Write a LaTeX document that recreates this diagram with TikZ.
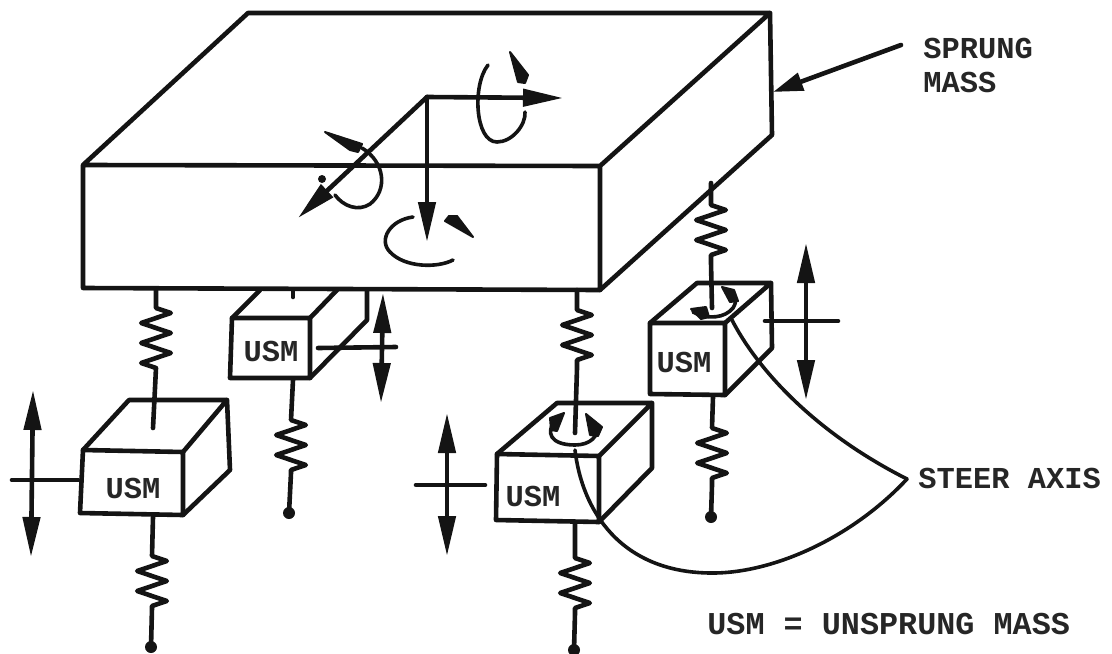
\documentclass[tikz,border=0pt]{standalone}
\usepackage{fontspec}
\setmainfont{Liberation Mono}
\usetikzlibrary{arrows.meta,decorations.pathmorphing}
\tikzset{
  x=0.5pt,y=-0.5pt,
  edge/.style={line width=2.3pt,line join=round,line cap=round,black!92},
  thin edge/.style={line width=1.8pt,line cap=round,black!92},
  tip/.style={edge,-{Triangle[length=20pt,width=8.5pt]}},
  two tip/.style={edge,{Triangle[length=20pt,width=8.5pt]}-{Triangle[length=20pt,width=8.5pt]}},
  zz/.style={decoration={zigzag,segment length=10pt,amplitude=7.4pt}},
  label/.style={font=\fontsize{15.2}{17}\selectfont\bfseries,inner sep=0pt,text=black!85},
  blob/.style={fill=black!92,draw=black!92,line width=1pt,line join=round},
}
\begin{document}
\begin{tikzpicture}
\useasboundingbox (0,0) rectangle (1112,653);

% sprung mass
\coordinate (fl) at (83,165); \coordinate (fr) at (600,166);
\coordinate (bl) at (248,13); \coordinate (br) at (770,13);
\coordinate (flb) at (83,288); \coordinate (frb) at (600,290);
\coordinate (brb) at (772,135);
\draw[edge] (fl) -- (bl) -- (br) -- (fr) -- (fl) -- (flb) -- (frb) -- (fr);
\draw[edge] (br) -- (brb) -- (frb);

% axes and rotations
\coordinate (org) at (427,97);
\coordinate (ax) at (563,98); \coordinate (ay) at (427,242); \coordinate (az) at (298,218);
\draw[tip] (org) -- (ax);
\draw[tip] (org) -- (ay);
\draw[tip] (org) -- (az);
\draw[thin edge] (488,65) .. controls (472,85) and (475,142) .. (497,142) .. controls (512,142) and (526,125) .. (525,112);
\fill[blob] (510,52) -- (528,75) -- (525,83) -- (518,82) -- cycle;
\draw[thin edge] (362,148) .. controls (385,162) and (388,190) .. (370,204) .. controls (358,212) and (343,206) .. (335,195);
\fill[blob] (325,132) -- (362,144) -- (358,152) -- (350,150) -- cycle;
\fill[black!92] (322,179) circle (2pt);
\draw[thin edge] (413,217) .. controls (390,220) and (378,240) .. (390,252) .. controls (405,268) and (438,268) .. (453,260);
\fill[blob] (473,237) -- (445,221) -- (449,216) -- (457,216) -- cycle;

% box 2 (behind)
\coordinate (b2a) at (232,318); \coordinate (b2b) at (310,318);
\coordinate (b2c) at (310,378); \coordinate (b2d) at (230,378);
\draw[edge] (b2d) -- (b2c) -- (b2b) -- (b2a) -- (b2d);
\draw[edge] (b2a) -- (260,290);
\draw[edge] (b2b) -- (337,290);
\draw[edge] (367,290) -- (367,320) -- (b2c);
\draw[edge] (293,290) -- (293,297);
\node[label] (usmb) at (271,351) {USM};
\draw[edge] (318,348) -- (396,347);
\draw[two tip] (383,293) -- (381,403);

% box 1 (left)
\coordinate (b1a) at (83,450); \coordinate (b1b) at (183,452);
\coordinate (b1c) at (183,515); \coordinate (b1d) at (80,513);
\draw[edge] (b1d) -- (b1c) -- (b1b) -- (b1a) -- (b1d);
\draw[edge] (b1a) -- (129,400) -- (227,400) -- (b1b);
\draw[edge] (227,400) -- (230,470) -- (b1c);
\node[label] (usma) at (133,488) {USM};
\draw[edge] (12,480) -- (78,480);
\draw[two tip] (33,390) -- (31,557);

% box 3 (front right)
\coordinate (b3a) at (497,454); \coordinate (b3b) at (599,456);
\coordinate (b3c) at (599,522); \coordinate (b3d) at (496,520);
\draw[edge] (b3d) -- (b3c) -- (b3b) -- (b3a) -- (b3d);
\draw[edge] (b3a) -- (557,403) -- (652,403) -- (b3b);
\draw[edge] (652,403) -- (652,468) -- (b3c);
\node[label] (usmc) at (533,496) {USM};
\draw[edge] (416,485) -- (485,485);
\draw[two tip] (447,413) -- (447,556);
\draw[thin edge] (556,420) .. controls (545,432) and (550,445) .. (575,445) .. controls (590,445) and (600,436) .. (596,425);
\fill[blob] (564,413) -- (550,418) -- (551,430) -- (557,431) -- cycle;
\fill[blob] (586,414) -- (602,427) -- (598,436) -- (590,435) -- cycle;

% box 4 (back right)
\coordinate (b4a) at (650,323); \coordinate (b4b) at (725,323);
\coordinate (b4c) at (725,395); \coordinate (b4d) at (650,394);
\draw[edge] (b4d) -- (b4c) -- (b4b) -- (b4a) -- (b4d);
\draw[edge] (b4a) -- (697,283) -- (771,283) -- (b4b);
\draw[edge] (771,283) -- (772,348) -- (b4c);
\node[label] (usmd) at (684,362) {USM};
\draw[edge] (765,321) -- (838,321);
\draw[two tip] (806,243) -- (806,400);
\draw[thin edge] (693,312) .. controls (708,320) and (725,318) .. (733,308) .. controls (738,300) and (735,296) .. (730,292);
\fill[blob] (691,309) -- (706,307) -- (709,317) -- (701,319) -- cycle;
\fill[blob] (722,287) -- (734,290) -- (738,301) -- (730,302) -- cycle;

% springs
\coordinate (s1a) at (156,290); \coordinate (s1b) at (153,428);
\coordinate (s2a) at (293,380); \coordinate (s2b) at (289,513);
\coordinate (s3a) at (153,517); \coordinate (s3b) at (151,647);
\coordinate (s4a) at (577,290); \coordinate (s4b) at (575,433);
\coordinate (s5a) at (575,523); \coordinate (s5b) at (574,650);
\coordinate (s6a) at (711,183); \coordinate (s6b) at (712,308);
\coordinate (s7a) at (713,397); \coordinate (s7b) at (711,517);
\draw[edge] (s1a) -- (156,308) decorate[zz]{-- (156,368)} -- (s1b);
\draw[edge] (s2a) -- (291,420) decorate[zz]{-- (291,473)} -- (s2b);
\draw[edge] (s3a) -- (152,556) decorate[zz]{-- (152,608)} -- (s3b);
\draw[edge] (s4a) -- (577,310) decorate[zz]{-- (577,368)} -- (s4b);
\draw[edge] (s5a) -- (575,558) decorate[zz]{-- (575,613)} -- (s5b);
\draw[edge] (s6a) -- (711,205) decorate[zz]{-- (711,263)} -- (s6b);
\draw[edge] (s7a) -- (712,428) decorate[zz]{-- (712,485)} -- (s7b);
\fill[black!92] (s2b) circle (3pt) (s3b) circle (3pt) (s5b) circle (3pt) (s7b) circle (3pt);

% steer axis
\node[label,anchor=west] (steer) at (918,478) {STEER AXIS};
\coordinate (sv) at (907,479);
\draw[thin edge] (732,320) .. controls (755,365) and (810,430) .. (sv);
\draw[thin edge] (sv) .. controls (850,540) and (770,574) .. (710,573) .. controls (620,572) and (582,510) .. (575,450);

% sprung mass label
\node[label,anchor=west,align=left] (sprung) at (923,65) {SPRUNG\\MASS};
\coordinate (lead) at (901,45); \coordinate (leadend) at (773,92);
\draw[edge,-{Triangle[length=15pt,width=9pt]}] (lead) -- (leadend);

% legend
\node[label,anchor=west,font=\fontsize{15.9}{17}\selectfont\bfseries] (legend) at (707,624) {USM = UNSPRUNG MASS};
\end{tikzpicture}
\end{document}
